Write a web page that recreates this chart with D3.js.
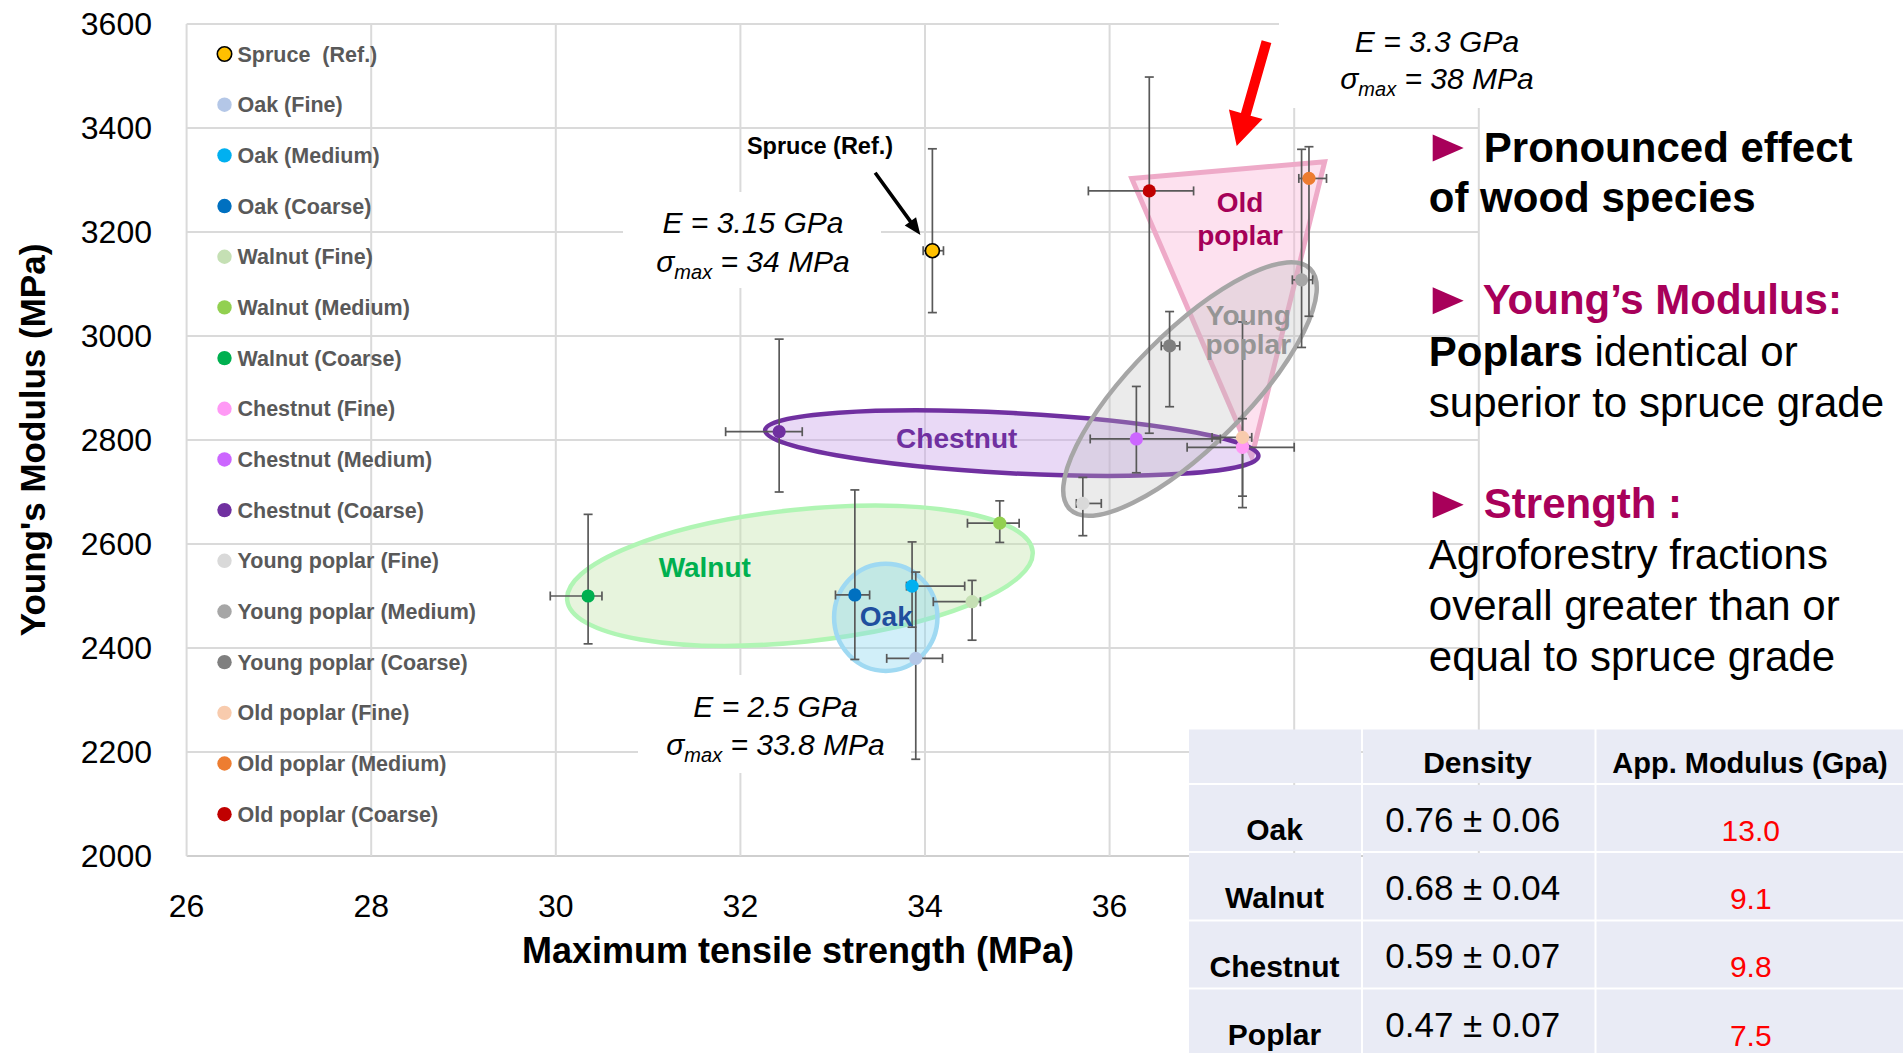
<!DOCTYPE html>
<html><head><meta charset="utf-8">
<script src="https://cdn.jsdelivr.net/npm/d3@7"></script>
<style>
body{margin:0;background:#fff;}
svg{display:block;}
text{font-family:"Liberation Sans",Arial,Helvetica,sans-serif;white-space:pre;}
</style>
</head><body>
<svg id="c" width="1903" height="1053"></svg>
<script>
// ---------------- DATA ----------------
const seriesNames = ["Spruce  (Ref.)","Oak (Fine)","Oak (Medium)","Oak (Coarse)","Walnut (Fine)","Walnut (Medium)","Walnut (Coarse)","Chestnut (Fine)","Chestnut (Medium)","Chestnut (Coarse)","Young poplar (Fine)","Young poplar (Medium)","Young poplar (Coarse)","Old poplar (Fine)","Old poplar (Medium)","Old poplar (Coarse)"];
const seriesColors = ["#ffc000","#b4c7e7","#00b0f0","#0070c0","#c5e0b4","#92d050","#00b050","#ff99f5","#cc66ff","#7030a0","#d9d9d9","#a6a6a6","#7f7f7f","#f8cbad","#ed7d31","#c00000"];
const strength     = [34.08, 33.90, 33.86, 33.24, 34.51, 34.81, 30.35, 37.44, 36.29, 32.42, 35.71, 38.08, 36.65, 37.44, 38.16, 36.43];
const strengthLow  = [33.98, 33.585,33.80, 33.03, 34.09, 34.46, 29.94, 36.84, 35.79, 31.84, 35.64, 37.98, 36.56, 37.11, 38.05, 35.77];
const strengthHigh = [34.20, 34.19, 34.43, 33.40, 34.60, 35.02, 30.50, 38.00, 37.20, 32.67, 35.91, 38.20, 36.76, 37.54, 38.35, 36.91];
const modulus      = [3164, 2380, 2519, 2502, 2489, 2640, 2500, 2786, 2802, 2816, 2678, 3108, 2981, 2805, 3303, 3279];
const modulusLow   = [3045, 2186, 2440, 2378, 2415, 2603, 2408, 2692, 2737, 2700, 2616, 2978, 2864, 2670, 3038, 2813];
const modulusHigh  = [3360, 2546, 2604, 2704, 2530, 2683, 2657, 2841, 2903, 2994, 2728, 3359, 3047, 3027, 3364, 3498];

const xTicks = [26, 28, 30, 32, 34, 36, 38, 40];
const xTickLabels = [26, 28, 30, 32, 34, 36];   // 38 and 40 are hidden behind the table
const yTicks = [2000, 2200, 2400, 2600, 2800, 3000, 3200, 3400, 3600];

// group outlines (data units)
const groupNames   = ["Walnut", "Oak", "Chestnut", "Young poplar"];
const groupCx      = [32.645, 33.575, 34.94, 36.871];
const groupCy      = [2539, 2459, 2794, 2898];
const groupRx      = [2.535, 0.56, 2.676, 1.842];   // along x units
const groupRy      = [127, 103, 58, 109.6];          // MPa
const groupAngle   = [-6, 0, 3, -45];
const oldPoplarTriangle = [[36.24, 3303], [38.33, 3335], [37.54, 2768]];

// group label anchors (data units)
const labelText = [["Walnut"], ["Oak"], ["Chestnut"], ["Young","poplar"], ["Old","poplar"]];
const labelX = [31.614, 33.581, 34.344, 37.503, 37.413];
const labelY = [[2537], [2443], [2784], [3021, 2966], [3239, 3175]];

// annotation texts
const eqE     = ["E = 3.15 GPa", "E = 2.5 GPa", "E = 3.3 GPa"];
const eqSigma = [" = 34 MPa", " = 33.8 MPa", " = 38 MPa"];

// table
const tableSpecies = ["Oak", "Walnut", "Chestnut", "Poplar"];
const tableDensity = ["0.76 \u00b1 0.06", "0.68 \u00b1 0.04", "0.59 \u00b1 0.07", "0.47 \u00b1 0.07"];
const tableModulus = ["13.0", "9.1", "9.8", "7.5"];

// ---------------- DRAW ----------------
const svg = d3.select("#c");
svg.append("rect").attr("width",1903).attr("height",1053).attr("fill","#fff");

const x = d3.scaleLinear().domain([26, 40]).range([186.6, 1478.8]);
const y = d3.scaleLinear().domain([2000, 3600]).range([856, 24]);

// gridlines
const grid = svg.append("g");
grid.selectAll(".hg").data(yTicks).join("line")
  .attr("x1", x(26)).attr("x2", x(40)).attr("y1", d=>y(d)).attr("y2", d=>y(d))
  .attr("stroke", d=> d===2000 ? "#cfcfcf" : "#dadada").attr("stroke-width", 2);
grid.selectAll(".vg").data(xTicks).join("line")
  .attr("y1", y(2000)).attr("y2", y(3600)).attr("x1", d=>x(d)).attr("x2", d=>x(d))
  .attr("stroke", "#dadada").attr("stroke-width", 2);

// tick labels
svg.append("g").selectAll("text").data(yTicks).join("text")
  .attr("x", 152).attr("y", d=>y(d)+11).attr("text-anchor","end")
  .attr("font-size", 32).attr("fill","#000").text(d=>d);
svg.append("g").selectAll("text").data(xTickLabels).join("text")
  .attr("x", d=>x(d)).attr("y", 916.5).attr("text-anchor","middle")
  .attr("font-size", 32).attr("fill","#000").text(d=>d);

// axis titles
svg.append("text").attr("transform","translate(44.5,440) rotate(-90)")
  .attr("text-anchor","middle").attr("font-size",35).attr("font-weight","bold")
  .text("Young's Modulus (MPa)");
svg.append("text").attr("x",798).attr("y",963).attr("text-anchor","middle")
  .attr("font-size",36).attr("font-weight","bold").text("Maximum tensile strength (MPa)");

// white boxes behind equation annotations
const boxes = [[623,192,258,96],[638,675,273,98],[1279,0,290,108]];
svg.append("g").selectAll("rect").data(boxes).join("rect")
  .attr("x",d=>d[0]).attr("y",d=>d[1]).attr("width",d=>d[2]).attr("height",d=>d[3]).attr("fill","#fff");

// legend
const leg = svg.append("g");
seriesNames.forEach((n,i)=>{
  const ly = 54 + i*50.68;
  leg.append("circle").attr("cx",224.5).attr("cy",ly).attr("r",7.2)
    .attr("fill",seriesColors[i]).attr("stroke", i===0 ? "#000" : "none").attr("stroke-width",1.6);
  leg.append("text").attr("x",237.5).attr("y",ly+7.5).attr("font-size",21.5)
    .attr("font-weight","bold").attr("fill","#595959").text(n);
});

// group shapes
const shapes = svg.append("g");
const tri = oldPoplarTriangle.map(p=>[x(p[0]), y(p[1])]);
const groupStyle = [
  {fill:"rgba(197,228,175,0.42)", stroke:"#b0f5b4"},
  {fill:"rgba(140,215,240,0.40)", stroke:"#9fd9f2"},
  {fill:"rgba(200,160,232,0.40)", stroke:"#7030a0"},
  {fill:"rgba(190,190,190,0.30)", stroke:"#a6a6a6"}
];
function drawEllipse(i){
  const cx = x(groupCx[i]), cy = y(groupCy[i]);
  const rx = x(groupCx[i]+groupRx[i]) - cx, ry = cy - y(groupCy[i]+groupRy[i]);
  shapes.append("ellipse").attr("cx",0).attr("cy",0).attr("rx",rx).attr("ry",ry)
    .attr("transform",`translate(${cx},${cy}) rotate(${groupAngle[i]})`)
    .attr("fill",groupStyle[i].fill).attr("stroke",groupStyle[i].stroke).attr("stroke-width",4.5);
}
drawEllipse(0); drawEllipse(1);
shapes.append("polygon").attr("points", tri.map(p=>p.join(",")).join(" "))
  .attr("fill","rgba(250,175,212,0.38)").attr("stroke","#eeaac8").attr("stroke-width",5).attr("stroke-linejoin","miter");
drawEllipse(2); drawEllipse(3);

// error bars + points
const eb = svg.append("g").attr("stroke","#595959").attr("stroke-width",1.7);
const cap = 4.5;
strength.forEach((sx,i)=>{
  const px = x(sx), py = y(modulus[i]);
  const yl = y(modulusLow[i]), yh = y(modulusHigh[i]);
  const xl = x(strengthLow[i]), xh = x(strengthHigh[i]);
  eb.append("line").attr("x1",px).attr("x2",px).attr("y1",yl).attr("y2",yh);
  eb.append("line").attr("x1",px-cap).attr("x2",px+cap).attr("y1",yl).attr("y2",yl);
  eb.append("line").attr("x1",px-cap).attr("x2",px+cap).attr("y1",yh).attr("y2",yh);
  eb.append("line").attr("x1",xl).attr("x2",xh).attr("y1",py).attr("y2",py);
  eb.append("line").attr("x1",xl).attr("x2",xl).attr("y1",py-cap).attr("y2",py+cap);
  eb.append("line").attr("x1",xh).attr("x2",xh).attr("y1",py-cap).attr("y2",py+cap);
});
svg.append("g").selectAll("circle").data(strength).join("circle")
  .attr("cx",(d)=>x(d)).attr("cy",(d,i)=>y(modulus[i])).attr("r",(d,i)=> i===0?7:6.6)
  .attr("fill",(d,i)=>seriesColors[i]).attr("stroke",(d,i)=> i===0?"#000":"none").attr("stroke-width",1.6);

// group labels
const labelColors = ["#00b050","#1f4e9e","#7030a0","#959595","#a50058"];
labelText.forEach((lines,i)=>{
  lines.forEach((t,j)=>{
    svg.append("text").attr("x",x(labelX[i])).attr("y",y(labelY[i][j]))
      .attr("text-anchor","middle").attr("font-size",28).attr("font-weight","bold")
      .attr("fill",labelColors[i]).text(t);
  });
});

// equation annotations
const eqPos = [[753,233,271.5],[775.5,716.7,755],[1437,51.7,89.3]];
eqE.forEach((t,i)=>{
  const [cx,b1,b2] = eqPos[i];
  svg.append("text").attr("x",cx).attr("y",b1).attr("text-anchor","middle")
    .attr("font-size",30).attr("font-style","italic").text(t);
  const s = svg.append("text").attr("x",cx).attr("y",b2).attr("text-anchor","middle")
    .attr("font-size",30).attr("font-style","italic");
  s.append("tspan").text("\u03c3");
  s.append("tspan").attr("font-size",20).attr("dy",7).text("max");
  s.append("tspan").attr("dy",-7).text(eqSigma[i]);
});

// Spruce reference annotation
svg.append("text").attr("x",820).attr("y",153.5).attr("text-anchor","middle")
  .attr("font-size",23.5).attr("font-weight","bold").text("Spruce (Ref.)");
function arrow(g, x0,y0,x1,y1, shaftHalf, headHalf, headLen, color){
  const dx=x1-x0, dy=y1-y0, L=Math.hypot(dx,dy), ux=dx/L, uy=dy/L, nx=-uy, ny=ux;
  const bx=x1-ux*headLen, by=y1-uy*headLen;
  const pts=[[x0+nx*shaftHalf,y0+ny*shaftHalf],[bx+nx*shaftHalf,by+ny*shaftHalf],[bx+nx*headHalf,by+ny*headHalf],[x1,y1],
             [bx-nx*headHalf,by-ny*headHalf],[bx-nx*shaftHalf,by-ny*shaftHalf],[x0-nx*shaftHalf,y0-ny*shaftHalf]];
  g.append("polygon").attr("points",pts.map(p=>p.join(",")).join(" ")).attr("fill",color);
}
arrow(svg, x(33.46), y(3314), x(33.95), y(3194), 1.8, 7, 17, "#000");
arrow(svg, x(37.70), y(3566), x(37.377), y(3365.4), 5, 17.5, 33, "#ff0000");

// right-hand text panel
const panel = svg.append("g").attr("font-size",42);
const mag = "#a8005a";
function tri2(xl, base){
  panel.append("path").attr("d",`M${xl},${base-27}L${xl+31},${base-13.5}L${xl},${base}Z`).attr("fill",mag);
}
tri2(1432.7,161.5); tri2(1432.7,314.2); tri2(1432.7,518.3);
panel.append("text").attr("x",1483.8).attr("y",161.5).attr("font-weight","bold").text("Pronounced effect");
panel.append("text").attr("x",1428.8).attr("y",212).attr("font-weight","bold").text("of wood species");
panel.append("text").attr("x",1482.7).attr("y",314.2).attr("font-weight","bold").attr("fill",mag).text("Young\u2019s Modulus:");
const l4 = panel.append("text").attr("x",1428.8).attr("y",365.6);
l4.append("tspan").attr("font-weight","bold").text("Poplars");
l4.append("tspan").text(" identical or");
panel.append("text").attr("x",1428.8).attr("y",416.5).text("superior to spruce grade");
panel.append("text").attr("x",1483.8).attr("y",518.3).attr("font-weight","bold").attr("fill",mag).text("Strength :");
panel.append("text").attr("x",1428.8).attr("y",568.8).text("Agroforestry fractions");
panel.append("text").attr("x",1428.8).attr("y",620).text("overall greater than or");
panel.append("text").attr("x",1428.8).attr("y",670.6).text("equal to spruce grade");

// table
const tbl = svg.append("g");
const colX = [[1189,1361],[1363,1594.5],[1596.5,1910]];
const rowY = [[729.5,783],[785,851],[853,919.5],[921.5,987.5],[989.5,1060]];
rowY.forEach(r=>colX.forEach(c=>{
  tbl.append("rect").attr("x",c[0]).attr("y",r[0]).attr("width",c[1]-c[0]).attr("height",r[1]-r[0]).attr("fill","#e9ebf5");
}));
tbl.append("text").attr("x",1477.4).attr("y",773).attr("text-anchor","middle").attr("font-size",30).attr("font-weight","bold").text("Density");
tbl.append("text").attr("x",1750).attr("y",773).attr("text-anchor","middle").attr("font-size",29).attr("font-weight","bold").text("App. Modulus (Gpa)");
const rowBaseLabel = [840, 908.3, 976.7, 1045];
const rowBaseDens  = [831.7, 900, 968.3, 1036.7];
tableSpecies.forEach((s,i)=>{
  tbl.append("text").attr("x",1274.5).attr("y",rowBaseLabel[i]).attr("text-anchor","middle").attr("font-size",30).attr("font-weight","bold").text(s);
  tbl.append("text").attr("x",1472.7).attr("y",rowBaseDens[i]).attr("text-anchor","middle").attr("font-size",35).text(tableDensity[i]);
  tbl.append("text").attr("x",1750.8).attr("y",rowBaseLabel[i]+0.7).attr("text-anchor","middle").attr("font-size",30).attr("fill","#ff0000").text(tableModulus[i]);
});
</script>
</body></html>
